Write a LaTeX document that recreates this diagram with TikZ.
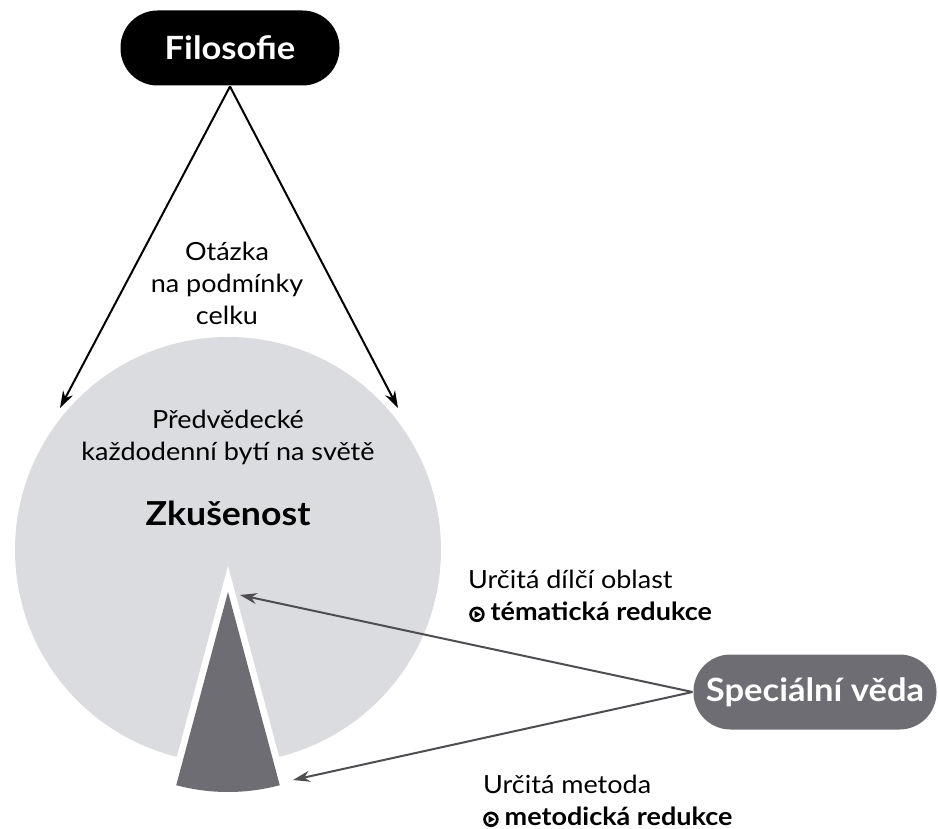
\documentclass[tikz,border=0pt]{standalone}
\usepackage{fontspec}
\setmainfont{Lato}[FakeStretch=1.08]
\usetikzlibrary{arrows.meta}
\definecolor{kruh}{RGB}{219,220,224}
\definecolor{tmave}{RGB}{110,109,115}
\definecolor{sipka}{RGB}{78,78,82}
\newcommand\redbullet{\tikz[baseline=-0.45ex]{\draw[line width=2.7pt](0,0)circle(6.4pt);\fill(-2.4pt,3.6pt)--(3.8pt,0pt)--(-2.4pt,-3.6pt)--cycle;}}
\tikzset{box/.style={rounded corners=37pt,minimum height=75pt,inner sep=0pt,text=white,font=\bfseries\fontsize{32}{38}\selectfont}}
\begin{document}
\begin{tikzpicture}[x=1pt,y=-1pt,line width=2pt,>={Stealth[length=17pt,width=11pt]},
  txt/.style={font=\fontsize{25}{32}\selectfont,inner sep=0pt,align=center}]
\useasboundingbox (0,0) rectangle (938,829);
\fill[kruh] (228,550) circle[radius=213];
\fill[white] (228,566)--++(75:235) arc[start angle=75,end angle=105,radius=235]--cycle;
\fill[tmave] (228,592)--++(75:200) arc[start angle=75,end angle=105,radius=200]--cycle;
\node[box,fill=black,minimum width=219pt] (fil) at (230,48) {Filosofie};
\node[box,fill=tmave,minimum width=243pt] (spec) at (815,692) {Speciální věda};
\coordinate (cl) at (60,408); \coordinate (cr) at (398,408);
\coordinate (ct) at (240,595); \coordinate (cb) at (293,780);
\draw[->] (fil.south)--(cl); \draw[->] (fil.south)--(cr);
\draw[->,sipka] (spec.west)--(ct); \draw[->,sipka] (spec.west)--(cb);
% base = baseline of the last line
\node[txt,anchor=base] (otazka) at (227,325) {Otázka\\na podmínky\\celku};
\node[txt,anchor=base] (pred) at (228,460) {Předvědecké\\každodenní bytí na světě};
\node[txt,anchor=base,font=\bfseries\fontsize{33}{38}\selectfont] (zk) at (228,525) {Zkušenost};
\node[txt,anchor=base west,align=left] (oblast) at (468,620) {Určitá dílčí oblast\\\hspace{1pt}\redbullet\hspace{6pt}\textbf{tématická redukce}};
\node[txt,anchor=base west,align=left] (metoda) at (483,825) {Určitá metoda\\\redbullet\hspace{6pt}\textbf{metodická redukce}};
\end{tikzpicture}
\end{document}
